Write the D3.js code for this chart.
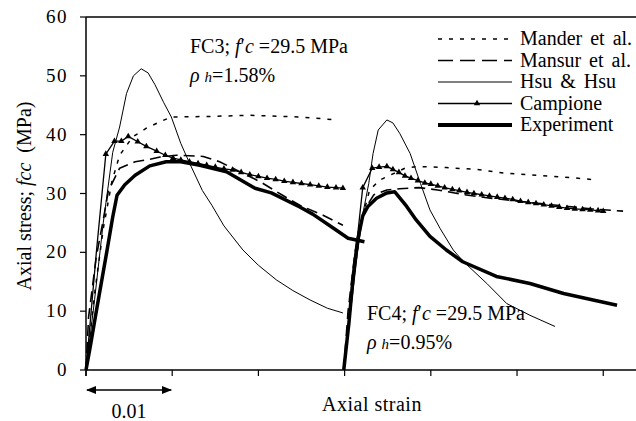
<!DOCTYPE html>
<html>
<script src="https://d3js.org/d3.v7.min.js"></script>

<head>
    <style>
        body {
            margin: 0;
            background-color: #ffffff;
        }

        svg {
            display: block;
        }

        text {
            font-family: "Liberation Serif", "DejaVu Serif", serif;
        }
    </style>
</head>

<body>
</body>
<script>
    const width = 636,
        height = 421;

    // tick values
    const xTicks = [0, 0.01, 0.02, 0.03, 0.04, 0.05, 0.06];
    const yTicks = [0, 10, 20, 30, 40, 50, 60];

    // [strain, stress MPa]
    const fc3Mander = [[0, 0], [0.001, 13], [0.002, 24], [0.003, 32], [0.0039, 36.5], [0.0054, 39.6], [0.007, 41.1],
        [0.0086, 42.2], [0.0099, 43], [0.0146, 43.1], [0.0188, 43.3], [0.0248, 43], [0.0292, 42.5]];
    const fc3Mansur = [[0, 0], [0.0003, 9], [0.0012, 19.3], [0.002, 25.5], [0.0026, 30.5], [0.0039, 34.3], [0.0057, 35.4],
        [0.007, 35.7], [0.0086, 36.2], [0.0105, 36.5], [0.0136, 36.3], [0.0155, 35.4], [0.0202, 32], [0.0228, 29.7],
        [0.0248, 28], [0.0275, 26.3], [0.0298, 24.6]];
    const fc3Hsu = [[0, 0], [0.001, 12], [0.002, 25], [0.0031, 37], [0.0039, 41.3], [0.0047, 47], [0.0055, 50],
        [0.0064, 51.2], [0.0072, 50.5], [0.008, 48.5], [0.009, 45.5], [0.0099, 43], [0.011, 38.5], [0.012, 35.2],
        [0.0135, 30.5], [0.0146, 28], [0.016, 24.5], [0.0182, 20.4], [0.02, 17.8], [0.0221, 15.3], [0.024, 13.5],
        [0.026, 11.9], [0.028, 10.5], [0.0298, 9.7]];
    const fc3Campione = [[0, 0], [0.0012, 20], [0.0023, 36.7], [0.0033, 38.9], [0.0041, 38.9], [0.0049, 39.7],
        [0.006, 38.8], [0.007, 38], [0.0082, 37.2], [0.0092, 36.5], [0.0101, 36], [0.011, 35.7], [0.012, 35.4],
        [0.013, 35.1], [0.014, 34.8], [0.015, 34.5], [0.016, 34.2], [0.017, 34], [0.018, 33.6], [0.019, 33.2],
        [0.02, 32.9], [0.021, 32.6], [0.022, 32.4], [0.023, 32.1], [0.024, 31.9], [0.025, 31.7], [0.026, 31.5],
        [0.027, 31.3], [0.028, 31.1], [0.029, 31], [0.0298, 30.9]];
    const fc3Experiment = [[0, 0], [0.0005, 4], [0.0012, 10], [0.0024, 20], [0.0031, 26], [0.0036, 29.7], [0.0045, 31.5],
        [0.0057, 33.1], [0.0074, 34.7], [0.0093, 35.4], [0.011, 35.4], [0.0132, 34.8], [0.0163, 33.7], [0.0196, 30.9],
        [0.0215, 30.1], [0.0248, 27.7], [0.0263, 26.5], [0.0285, 24.3], [0.0304, 22.4], [0.0323, 21.8]];

    const fc4Mander = [[0.0299, 0], [0.031, 15], [0.0319, 25], [0.0329, 30.6], [0.0341, 32.3], [0.037, 34.3],
        [0.0384, 34.6], [0.0418, 34.4], [0.0453, 34.1], [0.0484, 33.5], [0.0523, 33.1], [0.0562, 32.7], [0.0593, 32.3]];
    const fc4Mansur = [[0.0299, 0], [0.0304, 10], [0.0312, 20], [0.0322, 27], [0.0334, 29.8], [0.0349, 30.6],
        [0.0364, 30.8], [0.0386, 31], [0.0408, 30.6], [0.0438, 29.8], [0.0469, 29.2], [0.0507, 28.6], [0.0546, 28],
        [0.0585, 27.4], [0.0623, 27]];
    const fc4Hsu = [[0.0299, 0], [0.0307, 10], [0.0315, 20], [0.0322, 27.2], [0.0328, 31.7], [0.0333, 36.8],
        [0.0339, 40.8], [0.0349, 42.5], [0.0356, 42], [0.0364, 40.2], [0.0376, 36.8], [0.0388, 31.7], [0.0399, 27.2],
        [0.0411, 24], [0.0426, 20.4], [0.0438, 18.4], [0.0465, 14.7], [0.0488, 11.3], [0.0515, 9.3], [0.0544, 7.4]];
    const fc4Campione = [[0.0299, 0], [0.031, 16], [0.0321, 31], [0.0332, 34.3], [0.034, 34.5], [0.0349, 34.6],
        [0.0356, 34.1], [0.0363, 33.6], [0.037, 33], [0.0377, 32.6], [0.0385, 32.2], [0.0393, 31.8], [0.04, 31.6],
        [0.0408, 31.3], [0.0416, 31], [0.0425, 30.7], [0.0433, 30.5], [0.0442, 30.2], [0.045, 30], [0.0459, 29.8],
        [0.0468, 29.6], [0.0477, 29.4], [0.0486, 29.2], [0.0495, 29], [0.0504, 28.7], [0.0513, 28.5], [0.0522, 28.3],
        [0.0531, 28.1], [0.054, 27.9], [0.0549, 27.7], [0.0558, 27.5], [0.0567, 27.4], [0.0576, 27.3], [0.0585, 27.2],
        [0.0594, 27.1], [0.06, 27]];
    const fc4Experiment = [[0.0299, 0], [0.0305, 8], [0.031, 16], [0.0315, 22], [0.0321, 26.2], [0.0327, 27.8], [0.0337, 29.2],
        [0.0349, 30.1], [0.0358, 30.3], [0.0372, 27.8], [0.0383, 25.5], [0.0399, 22.7], [0.0418, 20.4], [0.0437, 18.4],
        [0.0476, 15.9], [0.0515, 14.7], [0.0554, 13], [0.0616, 11]];

    const legendLabels = ["Mander et al.", "Mansur et al.", "Hsu & Hsu", "Campione", "Experiment"];

    const styles = {
        mander: { width: 1.5, dash: "4,7" },
        mansur: { width: 1.6, dash: "11,6" },
        hsu: { width: 1, dash: null },
        campione: { width: 1.3, dash: null },
        experiment: { width: 3.5, dash: null }
    };
    const legendStyle = ["mander", "mansur", "hsu", "campione", "experiment"];

    const svg = d3.select("body").append("svg").attr("width", width).attr("height", height)
        .attr("font-family", "Liberation Serif, serif");

    const x = d3.scaleLinear().domain([0, 0.0638]).range([86, 636]);
    const y = d3.scaleLinear().domain([0, 60]).range([370, 17]);

    const line = d3.line().x(d => x(d[0])).y(d => y(d[1]));

    function drawCurve(data, key) {
        const s = styles[key];
        svg.append("path")
            .datum(data)
            .attr("fill", "none")
            .attr("stroke", "black")
            .attr("stroke-width", s.width)
            .attr("stroke-linejoin", "round")
            .attr("stroke-dasharray", s.dash)
            .attr("d", line);
    }

    const tri = d3.symbol().type(d3.symbolTriangle).size(18);

    function drawMarkers(data) {
        svg.selectAll(null)
            .data(data.filter(d => d[1] > 25))
            .enter().append("path")
            .attr("d", tri)
            .attr("transform", d => `translate(${x(d[0])},${y(d[1])})`)
            .attr("fill", "black");
    }

    // axes
    svg.append("line").attr("x1", x(0)).attr("x2", width).attr("y1", y(60)).attr("y2", y(60))
        .attr("stroke", "black").attr("stroke-width", 1.5);
    svg.append("line").attr("x1", x(0)).attr("x2", x(0)).attr("y1", y(60)).attr("y2", y(0) + 6)
        .attr("stroke", "black").attr("stroke-width", 1.5);
    svg.append("line").attr("x1", x(0)).attr("x2", width).attr("y1", y(0)).attr("y2", y(0))
        .attr("stroke", "black").attr("stroke-width", 1.5);

    yTicks.forEach(t => {
        svg.append("line").attr("x1", x(0) - 6).attr("x2", x(0)).attr("y1", y(t)).attr("y2", y(t))
            .attr("stroke", "black").attr("stroke-width", 1.2);
        svg.append("text")
            .attr("x", 68)
            .attr("y", y(t) + 6)
            .attr("text-anchor", "end")
            .attr("font-size", 19)
            .attr("letter-spacing", 1.5)
            .text(t);
    });
    xTicks.forEach(t => {
        svg.append("line").attr("x1", x(t)).attr("x2", x(t)).attr("y1", y(0)).attr("y2", y(0) + 6)
            .attr("stroke", "black").attr("stroke-width", 1.2);
    });

    // curves
    drawCurve(fc3Mander, "mander");
    drawCurve(fc4Mander, "mander");
    drawCurve(fc3Mansur, "mansur");
    drawCurve(fc4Mansur, "mansur");
    drawCurve(fc3Hsu, "hsu");
    drawCurve(fc4Hsu, "hsu");
    drawCurve(fc3Campione, "campione");
    drawCurve(fc4Campione, "campione");
    drawMarkers(fc3Campione);
    drawMarkers(fc4Campione);
    drawCurve(fc3Experiment, "experiment");
    drawCurve(fc4Experiment, "experiment");

    // legend
    legendLabels.forEach((lab, i) => {
        const ly = 39 + i * 21.5;
        const s = styles[legendStyle[i]];
        svg.append("line")
            .attr("x1", 438).attr("x2", 512).attr("y1", ly).attr("y2", ly)
            .attr("stroke", "black")
            .attr("stroke-width", legendStyle[i] == "experiment" ? 4 : s.width)
            .attr("stroke-dasharray", legendStyle[i] == "mansur" ? "15,7" : s.dash);
        if (legendStyle[i] == "campione") {
            svg.append("path").attr("d", tri).attr("transform", `translate(477,${ly})`).attr("fill", "black");
        }
        svg.append("text")
            .attr("x", 520)
            .attr("y", ly + 6)
            .attr("font-size", 20)
            .attr("word-spacing", 3)
            .text(lab);
    });

    // annotations
    function spec(xp, yp, label, rho) {
        const t = svg.append("text").attr("x", xp).attr("y", yp).attr("font-size", 20);
        t.append("tspan").text(label + "; ");
        t.append("tspan").attr("font-style", "italic").text("f");
        t.append("tspan").text("′");
        t.append("tspan").attr("font-style", "italic").text("c");
        t.append("tspan").text(" =29.5 MPa");
        const r = svg.append("text").attr("x", xp).attr("y", yp + 28.5).attr("font-size", 20);
        r.append("tspan").attr("font-style", "italic").text("ρ ");
        r.append("tspan").attr("font-style", "italic").attr("font-size", 15).text("h");
        r.append("tspan").text("=" + rho);
    }
    spec(190, 53, "FC3", "1.58%");
    spec(367, 320, "FC4", "0.95%");

    // axis titles
    const yl = svg.append("text")
        .attr("transform", "translate(31,196) rotate(-90)")
        .attr("text-anchor", "middle")
        .attr("font-size", 20)
        .attr("xml:space", "preserve");
    yl.append("tspan").text("Axial stress; ");
    yl.append("tspan").attr("font-style", "italic").text("fcc");
    yl.append("tspan").text("  (MPa)");

    svg.append("text")
        .attr("x", 372)
        .attr("y", 411)
        .attr("text-anchor", "middle")
        .attr("font-size", 20)
        .attr("letter-spacing", 0.5)
        .text("Axial strain");

    // scale bar for 0.01 strain
    const defs = svg.append("defs");
    defs.append("marker")
        .attr("id", "ah")
        .attr("viewBox", "0 0 10 10")
        .attr("refX", 9).attr("refY", 5)
        .attr("markerWidth", 7).attr("markerHeight", 7)
        .attr("orient", "auto-start-reverse")
        .append("path").attr("d", "M0,1L10,5L0,9Z").attr("fill", "black");
    svg.append("line")
        .attr("x1", x(0) + 1).attr("x2", x(0.01) - 1).attr("y1", 390).attr("y2", 390)
        .attr("stroke", "black").attr("stroke-width", 1.5)
        .attr("marker-start", "url(#ah)").attr("marker-end", "url(#ah)");
    svg.append("text")
        .attr("x", (x(0) + x(0.01)) / 2)
        .attr("y", 418)
        .attr("text-anchor", "middle")
        .attr("font-size", 20)
        .text("0.01");
</script>

</html>
